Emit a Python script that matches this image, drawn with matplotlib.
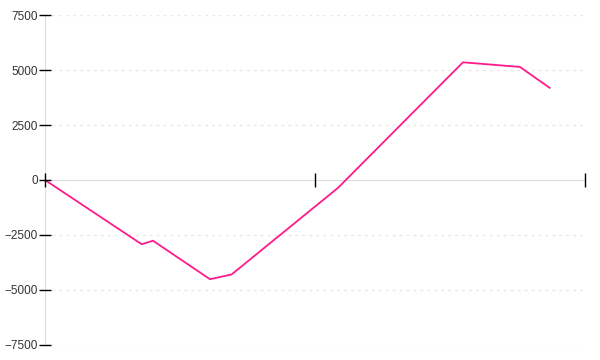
import matplotlib
matplotlib.use('Agg')
import matplotlib.pyplot as plt

# x in arbitrary units (ticks at 0, 10, 20), y values
x_vals = [0, 3.58, 4.0, 6.11, 6.91, 10.85, 15.48, 17.59, 18.69]
y_vals = [0, -2920, -2760, -4510, -4295, -360, 5350, 5140, 4190]
y_ticks = [-7500, -5000, -2500, 0, 2500, 5000, 7500]
x_ticks = [0, 10, 20]

LINE_COLOR = '#ff1a8c'
AXIS_GRAY = '#dddddd'

plt.rcParams['font.family'] = ['Liberation Sans', 'DejaVu Sans']

fig = plt.figure(figsize=(6, 3.6), dpi=100)
ax = fig.add_axes([0.075, 0.0417, 0.9, 0.9166])

# dotted grid lines
for yv in y_ticks:
    if yv != 0:
        ax.axhline(yv, color='#e8e8e8', linestyle=(0, (2, 3)), linewidth=1, zorder=0)

ax.plot(x_vals, y_vals, color=LINE_COLOR, linewidth=1.3, zorder=3)

ax.set_xlim(0, 20)
ax.set_ylim(-7500, 7500)
ax.set_yticks(y_ticks)
ax.set_xticks(x_ticks)
ax.set_xticklabels([])

for s in ['top', 'right']:
    ax.spines[s].set_visible(False)
ax.spines['left'].set_color(AXIS_GRAY)
ax.spines['bottom'].set_color(AXIS_GRAY)
ax.spines['bottom'].set_position(('data', 0))
ax.spines['left'].set_zorder(1)
ax.spines['bottom'].set_zorder(1)
ax.xaxis.set_zorder(4)
ax.yaxis.set_zorder(4)

ax.tick_params(axis='y', direction='inout', length=8, width=1, color='black',
               labelsize=8.5, labelcolor='#333333', pad=1)
ax.tick_params(axis='x', direction='inout', length=10, width=1, color='black')
for t in ax.xaxis.get_major_ticks():
    t.tick1line.set_clip_on(False)

fig.savefig('out.png', dpi=100)
